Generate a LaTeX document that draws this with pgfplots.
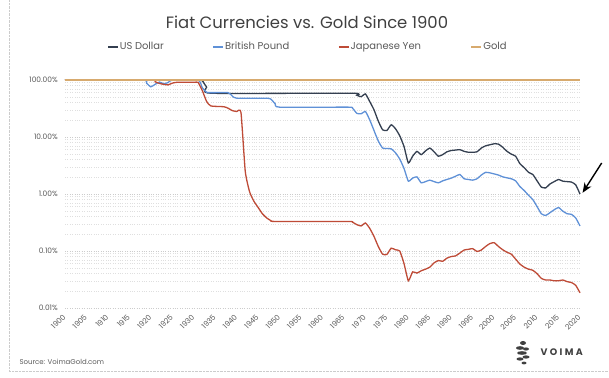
\documentclass[border=0pt]{standalone}
\usepackage{pgfplots}
\pgfplotsset{compat=1.18}
\usepackage{fontspec}
\setmainfont{Poppins}
\usetikzlibrary{arrows.meta}
\definecolor{usd}{HTML}{343F50}
\definecolor{gbp}{HTML}{5F91D7}
\definecolor{jpy}{HTML}{BE4B37}
\definecolor{gold}{HTML}{D7AA6E}
\definecolor{txt}{HTML}{404040}
\definecolor{lbl}{HTML}{595959}

\pgfplotstableread{
year val
1900 100
1931 100
1932 96
1933 75
1934 58.6
1967 58.6
1968 54
1969 51
1970 57
1971 42
1972 30
1973 19
1974 13.4
1975 13
1976 16.4
1977 14
1978 10.5
1979 6.8
1980 3.5
1981 4.6
1982 5.6
1983 4.9
1984 5.7
1985 6.4
1986 5.5
1987 4.6
1988 4.9
1989 5.5
1990 5.8
1991 5.9
1992 6.0
1993 5.6
1994 5.4
1995 5.4
1996 5.5
1997 6.4
1998 7.0
1999 7.3
2000 7.6
2001 7.5
2002 6.6
2003 5.6
2004 5.0
2005 4.6
2006 3.4
2007 2.9
2008 2.4
2009 2.2
2010 1.7
2011 1.32
2012 1.28
2013 1.5
2014 1.65
2015 1.8
2016 1.68
2017 1.65
2018 1.62
2019 1.45
2020 1.0
}\usd

\pgfplotstableread{
year val
1900 100
1918 100
1919 88
1920 76
1921 84
1922 92
1923 86
1924 90
1925 100
1931 100
1932 73
1933 61
1934 60
1938 60
1939 52
1940 48
1947 48
1948 46
1949 38
1950 33.4
1966 33.4
1967 32
1968 26
1969 25.5
1970 28
1971 20
1972 13
1973 8.5
1974 6.4
1975 6.3
1976 6.2
1977 5.3
1978 4.1
1979 2.8
1980 1.68
1981 1.9
1982 2.0
1983 1.57
1984 1.65
1985 1.75
1986 1.65
1987 1.57
1988 1.7
1989 1.8
1990 1.9
1991 2.05
1992 2.2
1993 1.85
1994 1.8
1995 1.75
1996 1.85
1997 2.15
1998 2.4
1999 2.35
2000 2.25
2001 2.15
2002 2.0
2003 1.92
2004 1.85
2005 1.7
2006 1.35
2007 1.15
2008 0.95
2009 0.8
2010 0.6
2011 0.45
2012 0.42
2013 0.47
2014 0.53
2015 0.58
2016 0.5
2017 0.45
2018 0.44
2019 0.38
2020 0.275
}\gbp

\pgfplotstableread{
year val
1900 100
1920 100
1921 93
1922 87
1923 84
1924 82
1925 88
1926 91
1930 91
1931 91
1932 65
1933 42
1934 35
1937 34
1938 32
1939 29
1940 28
1941 27
1942 2.5
1943 1.1
1944 0.75
1945 0.58
1946 0.45
1947 0.38
1948 0.34
1949 0.33
1966 0.33
1967 0.32
1968 0.29
1969 0.275
1970 0.31
1971 0.25
1972 0.18
1973 0.12
1974 0.088
1975 0.087
1976 0.112
1977 0.105
1978 0.10
1979 0.06
1980 0.030
1981 0.043
1982 0.041
1983 0.045
1984 0.048
1985 0.052
1986 0.062
1987 0.068
1988 0.066
1989 0.075
1990 0.08
1991 0.082
1992 0.092
1993 0.104
1994 0.107
1995 0.11
1996 0.098
1997 0.104
1998 0.12
1999 0.135
2000 0.14
2001 0.12
2002 0.105
2003 0.095
2004 0.088
2005 0.072
2006 0.059
2007 0.052
2008 0.048
2009 0.046
2010 0.04
2011 0.033
2012 0.031
2013 0.031
2014 0.030
2015 0.030
2016 0.031
2017 0.029
2018 0.028
2019 0.025
2020 0.0185
}\jpy

\pgfplotstableread{
year val
1900 100
2020 100
}\gold

\begin{document}
\begin{tikzpicture}
\useasboundingbox (0,0) rectangle (609bp,378bp);
\draw[gray!40, densely dotted] (9.5bp,378bp) -- (9.5bp,6.5bp) -- (609bp,6.5bp);
\node[txt, font=\fontsize{16.5}{18}\selectfont] at (307bp,356bp) {Fiat Currencies vs. Gold Since 1900};
\begin{axis}[
  at={(65bp,70bp)}, anchor=south west,
  scale only axis, width=515bp, height=228bp,
  xmin=1900, xmax=2020,
  ymode=log, ymin=0.01, ymax=100,
  axis line style={draw=none},
  major tick length=0pt, minor tick length=0pt,
  xtick={1900,1905,...,2020},
  /pgf/number format/1000 sep={},
  /pgf/number format/assume math mode=true,
  xticklabel shift=7bp,
  xticklabel style={rotate=45, anchor=east, font=\fontsize{7.5}{8}\selectfont, text=lbl, inner sep=1bp},
  ytick={0.01,0.1,1,10,100},
  yticklabels={0.01\%,0.10\%,1.00\%,10.00\%,100.00\%},
  yticklabel style={font=\fontsize{7.5}{8}\selectfont, text=lbl, inner sep=1bp, xshift=-6bp},
  ymajorgrids, yminorgrids,
  major grid style={gray!40, dotted, line width=0.6bp},
  minor grid style={gray!25, dotted, line width=0.5bp},
  clip=false,
  legend columns=4,
  legend style={at={(0.471,1.145)}, anchor=center, draw=none, fill=none,
    font=\fontsize{10}{11}\selectfont, text=lbl, inner sep=0pt,
    /tikz/every even column/.append style={column sep=48bp}},
  legend cell align=left,
  legend image code/.code={\draw[#1] (0bp,0bp) -- (10bp,0bp);},
]
\addplot[usd, line width=1.3bp, smooth, tension=0.3] table[x=year,y=val] {\usd};
\addlegendentry[inner xsep=1bp]{US Dollar}
\addplot[gbp, line width=1.3bp, smooth, tension=0.3] table[x=year,y=val] {\gbp};
\addlegendentry[inner xsep=1bp]{British Pound}
\addplot[jpy, line width=1.3bp, smooth, tension=0.3] table[x=year,y=val] {\jpy};
\addlegendentry[inner xsep=1bp]{Japanese Yen}
\addplot[gold, line width=2.2bp] table[x=year,y=val] {\gold};
\addlegendentry[inner xsep=1bp]{Gold}
\draw[-{Stealth[length=10bp,width=8bp]}, line width=1.4bp, black] (axis cs:2025.05,3.5) -- (axis cs:2020.6,1.05);
\end{axis}
\node[lbl, anchor=west, font=\fontsize{7}{8}\selectfont] at (16bp,16bp) {Source: VoimaGold.com};
\node[txt, anchor=west, font=\fontsize{9.5}{10}\bfseries\addfontfeatures{LetterSpace=25}] at (537bp,26bp) {VOIMA};
\begin{scope}[shift={(523bp,26bp)}, txt]
\fill (0,9bp) ellipse (3bp and 2bp);
\fill (-3bp,4bp) ellipse (4bp and 1.8bp);
\fill (3bp,3bp) ellipse (3bp and 1.6bp);
\fill (-1bp,-1bp) ellipse (5bp and 1.8bp);
\fill (3bp,-5bp) ellipse (3.5bp and 1.6bp);
\fill (-3bp,-7bp) ellipse (3.5bp and 1.6bp);
\fill (1bp,-11bp) ellipse (2.5bp and 1.4bp);
\end{scope}
\end{tikzpicture}
\end{document}
